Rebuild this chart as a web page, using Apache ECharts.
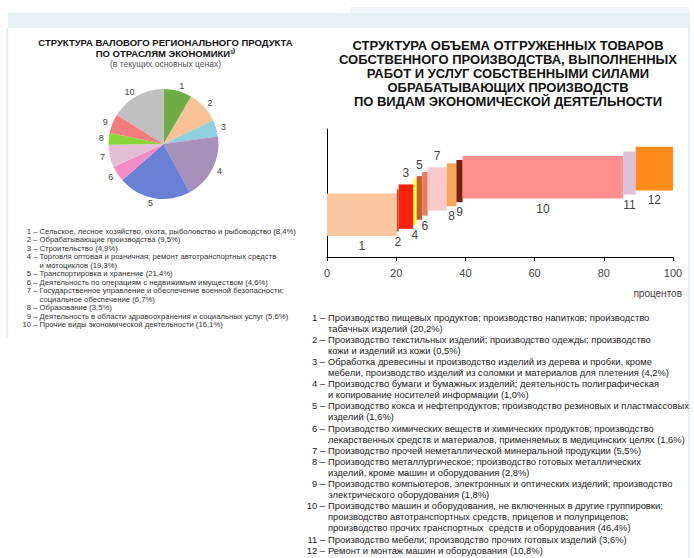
<!DOCTYPE html>
<html>
<head>
<meta charset="utf-8">
<script src="https://cdn.jsdelivr.net/npm/echarts@6/dist/echarts.min.js"></script>
<style>
  html, body { margin: 0; padding: 0; background: #fff; }
  #chart { width: 694px; height: 558px; }
</style>
</head>
<body>
<div id="chart"></div>
<script>
// левая диаграмма: структура ВРП
var pieNames = ['1', '2', '3', '4', '5', '6', '7', '8', '9', '10'];
var pieValues = [8.4, 9.5, 4.9, 19.3, 21.4, 4.6, 6.7, 3.5, 5.6, 16.1];
var pieColors = ['#6fac46', '#f9c295', '#8fcfe0', '#a790ba', '#6a80d6', '#f58bc6', '#e2bdd3', '#88d63a', '#f57c7c', '#c0c0c0'];
var pieLegend = [
  ['Сельское, лесное хозяйство, охота, рыболовство и рыбоводство'],
  ['Обрабатывающие производства'],
  ['Строительство'],
  ['Торговля оптовая и розничная; ремонт автотранспортных средств', 'и мотоциклов'],
  ['Транспортировка и хранение'],
  ['Деятельность по операциям с недвижимым имуществом'],
  ['Государственное управление и обеспечение военной безопасности;', 'социальное обеспечение'],
  ['Образование'],
  ['Деятельность в области здравоохранения и социальных услуг'],
  ['Прочие виды экономической деятельности']
];

// правая диаграмма: структура отгрузки обрабатывающих производств
var barNames = ['1', '2', '3', '4', '5', '6', '7', '8', '9', '10', '11', '12'];
var barShares = [20.2, 0.5, 4.2, 1.0, 1.6, 1.6, 5.5, 2.8, 1.8, 46.4, 3.6, 10.8];
var barLow = [16.5, 19.9, 22.0, 25.2, 29.1, 32.3, 36.2, 39.6, 42.8, 45.7, 48.8, 52.0];
var barHigh = [49.6, 52.8, 56.7, 60.6, 63.2, 66.4, 70.1, 73.2, 75.8, 79.0, 82.4, 86.1];
var labelSide = ['bottom', 'bottom', 'top', 'bottom', 'top', 'bottom', 'top', 'bottom', 'bottom', 'bottom', 'bottom', 'bottom'];
var barColors = ['#f9c6a0', '#a0501e', '#ff1e0a', '#ffff33', '#c0622a', '#e87a62', '#fbcaca', '#f9a65a', '#7b1e0a', '#ff8f8f', '#d9c2d9', '#ff8c1a'];
var xTicks = [0, 20, 40, 60, 80, 100];
var barLegend = [
  ['Производство пищевых продуктов; производство напитков; производство', 'табачных изделий'],
  ['Производство текстильных изделий; производство одежды; производство', 'кожи и изделий из кожи'],
  ['Обработка древесины и производство изделий из дерева и пробки, кроме', 'мебели, производство изделий из соломки и материалов для плетения'],
  ['Производство бумаги и бумажных изделий; деятельность полиграфическая', 'и копирование носителей информации'],
  ['Производство кокса и нефтепродуктов; производство резиновых и пластмассовых', 'изделий'],
  ['Производство химических веществ и химических продуктов; производство', 'лекарственных средств и материалов, применяемых в медицинских целях'],
  ['Производство прочей неметаллической минеральной продукции'],
  ['Производство металлургическое; производство готовых металлических', 'изделий, кроме машин и оборудования'],
  ['Производство компьютеров, электронных и оптических изделий; производство', 'электрического оборудования'],
  ['Производство машин и оборудования, не включенных в другие группировки;', 'производство автотранспортных средств, прицепов и полуприцепов;', 'производство прочих транспортных  средств и оборудования'],
  ['Производство мебели; производство прочих готовых изделий'],
  ['Ремонт и монтаж машин и оборудования']
];

var FONT = '"Liberation Sans", Arial, sans-serif';

function pct(v) {
  return '(' + v.toFixed(1).replace('.', ',') + '%)';
}

// текст легенды: номер справа до тире, дальше текст
function legendTexts(items, values, numRight, textX, y0, step, size, color) {
  var out = [];
  var row = 0;
  items.forEach(function (lines, i) {
    lines.forEach(function (line, j) {
      var y = y0 + row * step;
      var txt = line + (j === lines.length - 1 ? ' ' + pct(values[i]) : '');
      if (j === 0) {
        out.push({ type: 'text', x: numRight, y: y, silent: true,
          style: { text: (i + 1) + ' –', align: 'right', verticalAlign: 'middle', fontSize: size, fontFamily: FONT, fill: color } });
      }
      out.push({ type: 'text', x: textX, y: y, silent: true,
        style: { text: txt, align: 'left', verticalAlign: 'middle', fontSize: size, fontFamily: FONT, fill: color } });
      row++;
    });
  });
  return out;
}

var starts = [];
var acc = 0;
barShares.forEach(function (v) { starts.push(acc); acc += v; });
var barData = barShares.map(function (v, i) {
  return { name: barNames[i], value: [starts[i], starts[i] + v, barLow[i], barHigh[i]] };
});

var graphics = [
  { type: 'rect', shape: { x: 8, y: 13, width: 682, height: 15 }, style: { fill: '#e7f0f3' }, silent: true },
  { type: 'rect', shape: { x: 350, y: 7, width: 340, height: 6 }, style: { fill: '#f0f6f8' }, silent: true },
  { type: 'line', shape: { x1: 7, y1: 28, x2: 7, y2: 338 }, style: { stroke: '#d8eaf0', lineWidth: 1.5 }, silent: true },
  { type: 'line', shape: { x1: 689, y1: 28, x2: 689, y2: 558 }, style: { stroke: '#d8eaf0', lineWidth: 1.5 }, silent: true },
  { type: 'text', x: 165.5, y: 37, silent: true,
    style: { text: 'СТРУКТУРА ВАЛОВОГО РЕГИОНАЛЬНОГО ПРОДУКТА\nПО ОТРАСЛЯМ ЭКОНОМИКИ¹⁾', align: 'center', verticalAlign: 'top',
      fontSize: 9.5, fontWeight: 'bold', lineHeight: 11.3, fontFamily: FONT, fill: '#111' } },
  { type: 'text', x: 165.5, y: 64, silent: true,
    style: { text: '(в текущих основных ценах)', align: 'center', verticalAlign: 'middle', fontSize: 8.5, fontFamily: FONT, fill: '#555' } },
  { type: 'text', x: 508, y: 38, silent: true,
    style: { text: 'СТРУКТУРА ОБЪЕМА ОТГРУЖЕННЫХ ТОВАРОВ\nСОБСТВЕННОГО ПРОИЗВОДСТВА, ВЫПОЛНЕННЫХ\nРАБОТ И УСЛУГ СОБСТВЕННЫМИ СИЛАМИ\nОБРАБАТЫВАЮЩИХ ПРОИЗВОДСТВ\nПО ВИДАМ ЭКОНОМИЧЕСКОЙ ДЕЯТЕЛЬНОСТИ',
      align: 'center', verticalAlign: 'top', fontSize: 13, fontWeight: 'bold', lineHeight: 14.2, fontFamily: FONT, fill: '#111' } },
  { type: 'text', x: 682, y: 293, silent: true,
    style: { text: 'процентов', align: 'right', verticalAlign: 'middle', fontSize: 10, fontFamily: FONT, fill: '#444' } }
];
graphics = graphics
  .concat(legendTexts(pieLegend, pieValues, 37.5, 39.5, 231, 8.5, 7.7, '#333'))
  .concat(legendTexts(barLegend, barShares, 325, 328, 317, 11.1, 9.4, '#222'));

var chart = echarts.init(document.getElementById('chart'), null, { renderer: 'svg' });

var option = {
  animation: false,
  textStyle: { fontFamily: FONT },
  graphic: graphics,
  grid: { left: 327, right: 21, top: 129, bottom: 301 },
  xAxis: {
    type: 'value', min: 0, max: 100, interval: 20,
    axisLine: { lineStyle: { color: '#000', width: 1 } },
    axisTick: { show: true, length: 4, lineStyle: { color: '#000' } },
    axisLabel: { margin: 10, fontSize: 11, color: '#444', fontFamily: FONT,
      formatter: function (v) { return xTicks.indexOf(v) >= 0 ? String(v) : ''; } },
    splitLine: { show: false }
  },
  yAxis: {
    type: 'value', min: 0, max: 100,
    axisLine: { show: true, lineStyle: { color: '#000', width: 1 } },
    axisTick: { show: false },
    axisLabel: { show: false },
    splitLine: { show: false }
  },
  series: [
    {
      type: 'pie',
      center: [163.5, 144],
      radius: 55,
      startAngle: 90,
      clockwise: true,
      silent: true,
      itemStyle: { borderWidth: 0 },
      label: { show: true, position: 'outside', formatter: '{b}', fontSize: 9, color: '#444', distanceToLabelLine: 0, fontFamily: FONT },
      labelLine: { show: false, length: 5, length2: 0 },
      data: pieValues.map(function (v, i) {
        return { name: pieNames[i], value: v, itemStyle: { color: pieColors[i] } };
      })
    },
    {
      type: 'custom',
      silent: true,
      encode: { x: [0, 1], y: [2, 3] },
      renderItem: function (params, api) {
        var i = params.dataIndex;
        var p0 = api.coord([api.value(0), api.value(3)]);
        var p1 = api.coord([api.value(1), api.value(2)]);
        var cx = (p0[0] + p1[0]) / 2;
        var up = labelSide[i] === 'top';
        return {
          type: 'group',
          children: [
            { type: 'rect', shape: { x: p0[0], y: p0[1], width: p1[0] - p0[0], height: p1[1] - p0[1] },
              style: { fill: barColors[i] } },
            { type: 'text', x: cx, y: up ? p0[1] - 5 : p1[1] + 4,
              style: { text: barNames[i], align: 'center', verticalAlign: up ? 'bottom' : 'top',
                fontSize: 12, fontFamily: FONT, fill: '#444' } }
          ]
        };
      },
      data: barData
    }
  ]
};

chart.setOption(option);
</script>
</body>
</html>
